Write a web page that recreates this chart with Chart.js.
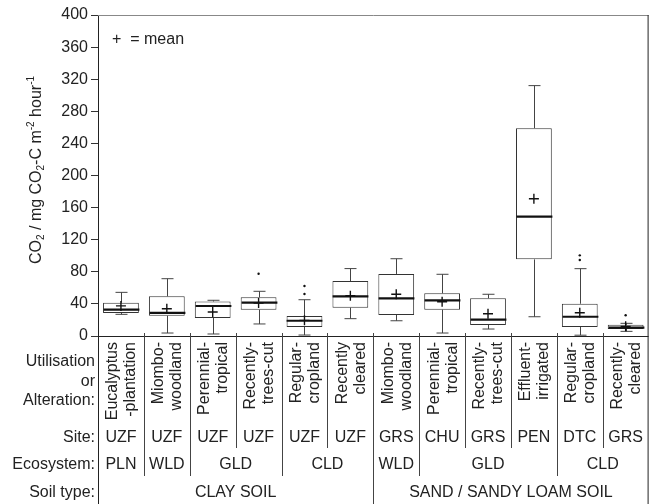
<!DOCTYPE html>
<html>
<head>
<meta charset="utf-8">
<script src="https://cdn.jsdelivr.net/npm/chart.js@4"></script>
<style>
  body { margin: 0; background: #fff; }
</style>
</head>
<body>
<canvas id="myChart" width="655" height="504"></canvas>
<script>
// Datos por sitio (12 cajas)
const useLine1 = ['Eucalyptus', 'Miombo-', 'Perennial-', 'Recently-', 'Regular-', 'Recently',
                  'Miombo-', 'Perennial-', 'Recently-', 'Effluent-', 'Regular-', 'Recently-'];
const useLine2 = ['-plantation', 'woodland', 'tropical', 'trees-cut', 'cropland', 'cleared',
                  'woodland', 'tropical', 'trees-cut', 'irrigated', 'cropland', 'cleared'];
const sites = ['UZF', 'UZF', 'UZF', 'UZF', 'UZF', 'UZF', 'GRS', 'CHU', 'GRS', 'PEN', 'DTC', 'GRS'];
const ecosystems = [['PLN', 0, 0], ['WLD', 1, 1], ['GLD', 2, 3], ['CLD', 4, 5], ['WLD', 6, 6], ['GLD', 7, 9], ['CLD', 10, 11]];
const soils = [['CLAY SOIL', 0, 5], ['SAND / SANDY LOAM SOIL', 6, 11]];

const whiskerLow  = [27,   3.7,  2.5,  15,   1.2,  21.6, 19,   3.7,  8.7,  24,    1,    5.8];
const q1          = [28.7, 25.3, 22.4, 32.8, 11.2, 35.3, 26.2, 32.8, 13.7, 95.5,  11.2, 8.7];
const medians     = [32.8, 28.7, 37.4, 41.5, 19,   49.4, 47,   44.5, 20.3, 148.7, 24,   10.4];
const q3          = [41.5, 49.5, 43,   48.2, 25,   68.5, 77.3, 53.2, 47,   259,   40.2, 14];
const whiskerHigh = [54.4, 71.4, 44.5, 55.7, 45.2, 84,   96.3, 76.9, 52,   312,   83.9, 15.8];
const means       = [37.5, 34,   30,   41,   19.5, 50.2, 52,   42.7, 27.8, 171,   29,   12];
// [indice de caja, valor]
const outliers = [[3, 77.6], [4, 52.3], [4, 62.3], [10, 94.7], [10, 100.5], [11, 25.8]];

const yTicks = [0, 40, 80, 120, 160, 200, 240, 280, 320, 360, 400];

const labels = sites.map((s, i) => useLine1[i] + ' ' + useLine2[i] + ' ' + s);

const FONT = '"Liberation Sans", Arial, sans-serif';
const INK = '#222';

const boxExtras = {
    id: 'boxExtras',
    afterDatasetDraw(chart, args) {
        if (args.index !== 0) return;
        const ctx = chart.ctx;
        const x = chart.scales.x, y = chart.scales.y;
        const bars = chart.getDatasetMeta(0).data;
        ctx.save();
        for (let i = 0; i < q1.length; i++) {
            const cx = Math.round(x.getPixelForValue(i)) + 0.5;
            const half = bars[i].width / 2;
            // bigotes
            ctx.strokeStyle = '#444';
            ctx.lineWidth = 1;
            ctx.beginPath();
            ctx.moveTo(cx, y.getPixelForValue(q3[i]));
            ctx.lineTo(cx, y.getPixelForValue(whiskerHigh[i]));
            ctx.moveTo(cx, y.getPixelForValue(q1[i]));
            ctx.lineTo(cx, y.getPixelForValue(whiskerLow[i]));
            ctx.moveTo(cx - 6, y.getPixelForValue(whiskerHigh[i]));
            ctx.lineTo(cx + 6, y.getPixelForValue(whiskerHigh[i]));
            ctx.moveTo(cx - 6, y.getPixelForValue(whiskerLow[i]));
            ctx.lineTo(cx + 6, y.getPixelForValue(whiskerLow[i]));
            ctx.stroke();
            // mediana
            ctx.strokeStyle = '#111';
            ctx.lineWidth = 2.2;
            ctx.beginPath();
            ctx.moveTo(cx - half, y.getPixelForValue(medians[i]));
            ctx.lineTo(cx + half, y.getPixelForValue(medians[i]));
            ctx.stroke();
        }
        ctx.restore();
    },
    afterDraw(chart) {
        const ctx = chart.ctx;
        const area = chart.chartArea;
        const x = chart.scales.x;
        const H = chart.height;
        const px = i => x.getPixelForValue(i);
        ctx.save();

        // marco
        ctx.lineWidth = 1;
        ctx.strokeStyle = '#888';
        ctx.beginPath();
        ctx.moveTo(area.left, area.top + 0.5);
        ctx.lineTo(area.right, area.top + 0.5);
        ctx.stroke();
        ctx.strokeStyle = INK;
        ctx.beginPath();
        ctx.moveTo(area.right - 0.5, area.top);
        ctx.lineTo(area.right - 0.5, H);
        ctx.moveTo(area.left + 0.5, area.bottom);
        ctx.lineTo(area.left + 0.5, H);
        ctx.moveTo(area.left, area.bottom + 0.5);
        ctx.lineTo(area.right, area.bottom + 0.5);
        ctx.stroke();

        // divisiones de la tabla
        const ecoBreaks = ecosystems.slice(1).map(e => e[1]);
        const soilBreaks = soils.slice(1).map(s => s[1]);
        ctx.strokeStyle = '#444';
        for (let i = 1; i < sites.length; i++) {
            const bx = Math.round((px(i - 1) + px(i)) / 2) + 0.5;
            let bottom = 448;
            if (soilBreaks.includes(i)) bottom = H;
            else if (ecoBreaks.includes(i)) bottom = 476;
            ctx.beginPath();
            ctx.moveTo(bx, area.bottom - 3);
            ctx.lineTo(bx, bottom);
            ctx.stroke();
        }

        ctx.fillStyle = INK;
        ctx.font = '16px ' + FONT;

        // etiquetas de filas
        ctx.textAlign = 'right';
        ctx.textBaseline = 'middle';
        const lx = area.left - 3;
        ctx.fillText('Utilisation', lx, 362);
        ctx.fillText('or', lx, 382);
        ctx.fillText('Alteration:', lx, 401);
        ctx.fillText('Site:', lx, 438);
        ctx.fillText('Ecosystem:', lx, 465);
        ctx.fillText('Soil type:', lx, 493);

        // uso (texto vertical)
        for (let i = 0; i < sites.length; i++) {
            const cx = px(i);
            ctx.save();
            ctx.translate(cx - 8, 342);
            ctx.rotate(-Math.PI / 2);
            ctx.textAlign = 'right';
            ctx.fillText(useLine1[i], 0, 0);
            ctx.restore();
            ctx.save();
            ctx.translate(cx + 10, 342);
            ctx.rotate(-Math.PI / 2);
            ctx.textAlign = 'right';
            ctx.fillText(useLine2[i], 0, 0);
            ctx.restore();
        }

        ctx.textAlign = 'center';
        sites.forEach((s, i) => ctx.fillText(s, px(i), 438));
        ecosystems.forEach(e => ctx.fillText(e[0], (px(e[1]) + px(e[2])) / 2, 465));
        soils.forEach(s => ctx.fillText(s[0], (px(s[1]) + px(s[2])) / 2, 493));

        // leyenda
        ctx.textAlign = 'left';
        ctx.fillText('+  = mean', area.left + 14, 40);

        // titulo del eje y con subindices
        const parts = [['CO', 0], ['2', 1], [' / mg CO', 0], ['2', 1], ['-C m', 0], ['-2', 2], [' hour', 0], ['-1', 2]];
        const big = '16px ' + FONT, small = '10px ' + FONT;
        let total = 0;
        parts.forEach(p => { ctx.font = p[1] ? small : big; total += ctx.measureText(p[0]).width; });
        ctx.save();
        ctx.translate(35, 170);
        ctx.rotate(-Math.PI / 2);
        ctx.textAlign = 'left';
        ctx.textBaseline = 'alphabetic';
        let pos = -total / 2;
        parts.forEach(p => {
            ctx.font = p[1] ? small : big;
            const dy = p[1] === 1 ? 3 : (p[1] === 2 ? -7 : 0);
            ctx.fillText(p[0], pos, 6 + dy);
            pos += ctx.measureText(p[0]).width;
        });
        ctx.restore();

        ctx.restore();
    }
};

const ctx = document.getElementById('myChart').getContext('2d');
const myChart = new Chart(ctx, {
    type: 'bar',
    data: {
        labels: labels,
        datasets: [{
            label: 'IQR',
            data: q1.map((v, i) => [v, q3[i]]),
            backgroundColor: '#fff',
            borderColor: '#333',
            borderWidth: 1,
            borderSkipped: false,
            categoryPercentage: 1,
            barPercentage: 0.78,
            order: 2
        },
        {
            type: 'line',
            label: 'mean',
            data: means,
            showLine: false,
            pointStyle: 'cross',
            pointRadius: 5,
            pointBorderWidth: 1.4,
            borderColor: '#111',
            order: 0
        },
        {
            type: 'line',
            label: 'outliers',
            data: outliers.map(o => ({ x: labels[o[0]], y: o[1] })),
            showLine: false,
            pointStyle: 'circle',
            pointRadius: 1.2,
            pointBorderWidth: 0,
            backgroundColor: '#111',
            borderColor: '#111',
            order: 0
        }]
    },
    options: {
        responsive: false,
        animation: false,
        layout: {
            padding: { left: 0, right: 5, top: 15, bottom: 168 }
        },
        plugins: {
            legend: { display: false },
            tooltip: { enabled: false }
        },
        scales: {
            x: {
                display: false
            },
            y: {
                min: 0,
                max: 400,
                afterFit: s => { s.width = 98; },
                afterBuildTicks: s => { s.ticks = yTicks.map(v => ({ value: v })); },
                ticks: {
                    color: INK,
                    padding: 3,
                    font: { family: FONT, size: 16 }
                },
                grid: {
                    drawOnChartArea: false,
                    tickLength: 7,
                    color: '#333'
                },
                border: { display: true, color: '#222', width: 1 }
            }
        }
    },
    plugins: [boxExtras]
});
</script>
</body>
</html>
